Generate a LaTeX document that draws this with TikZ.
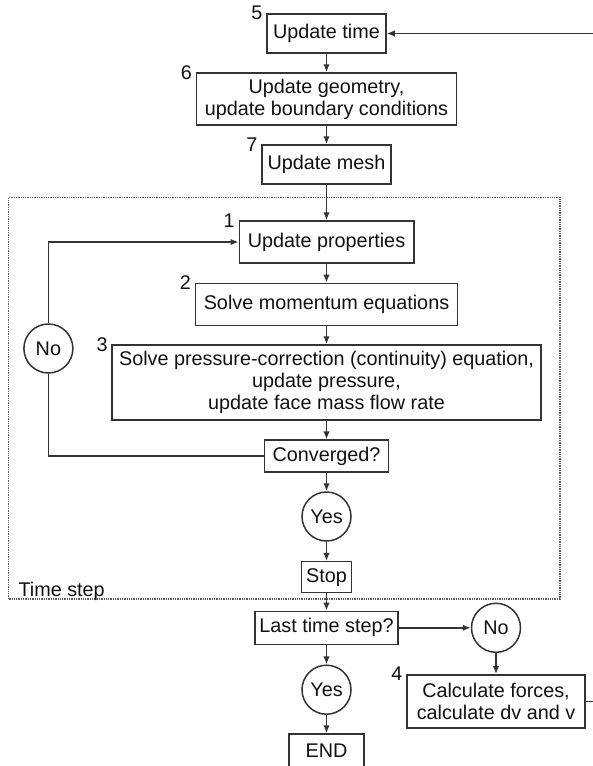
\documentclass[tikz,border=0pt]{standalone}
\usepackage{fontspec}
\setmainfont{Liberation Sans}
\usetikzlibrary{arrows.meta}
\definecolor{linegray}{HTML}{333333}
\definecolor{textgray}{HTML}{111111}
\def\colx{326.5}

\begin{document}
\begin{tikzpicture}[x=1pt,y=1pt,->,>={Latex[length=8pt,width=6.5pt]},color=linegray,line width=1.5pt,font=\fontsize{19.8}{22}\selectfont]
    \tikzstyle{stepbox}=[draw,rectangle,align=center,inner sep=0pt,text=textgray]
    \tikzstyle{answer}=[draw,circle,minimum size=49pt,inner sep=0pt,text=textgray]
    \tikzstyle{num}=[anchor=east,inner sep=3pt,text=textgray]
    \tikzstyle{frame}=[-,densely dotted,black!65,line width=1.3pt]

    \useasboundingbox (0,0) rectangle (592,-766);

    % Draw the time step frame
    \draw[frame] (8.3,-197.5) rectangle (560,-599);
    \node[anchor=base west,text=textgray] (tslabel) at (14.5,-596.5) {Time step};

    % Draw the main column
    \node[stepbox,minimum width=119pt,minimum height=39pt,label={[num]north west:5}] (time) at (\colx,-33.5) {Update time};
    \node[stepbox,minimum width=260pt,minimum height=52pt,label={[num]north west:6}] (geom) at (\colx,-99) {Update geometry,\\update boundary conditions};
    \node[stepbox,minimum width=129pt,minimum height=39pt,label={[num]north west:7}] (mesh) at (\colx,-164.5) {Update mesh};
    \node[stepbox,minimum width=174.5pt,minimum height=42pt,label={[num]north west:1}] (props) at (\colx,-242) {Update properties};
    \node[stepbox,minimum width=262.3pt,minimum height=42.4pt,label={[num]north west:2}] (momentum) at (\colx,-304.5) {Solve momentum equations};
    \node[stepbox,minimum width=428.6pt,minimum height=75pt,label={[num]north west:3}] (pressure) at (\colx,-382.5) {Solve pressure-correction (continuity) equation,\\update pressure,\\update face mass flow rate};
    \node[stepbox,minimum width=123.6pt,minimum height=31.7pt] (conv) at (\colx,-456) {Converged?};
    \node[answer] (yes1) at (\colx,-516.5) {Yes};
    \node[stepbox,minimum width=50.4pt,minimum height=31pt] (stop) at (\colx,-577.2) {Stop};
    \node[stepbox,minimum width=143pt,minimum height=33pt] (last) at (\colx,-627.8) {Last time step?};
    \node[answer] (yes2) at (\colx,-689.7) {Yes};
    \node[stepbox,minimum width=74.7pt,minimum height=33pt] (theend) at (\colx,-750.5) {END};

    % Draw the side nodes
    \node[answer] (no1) at (48.4,-348.5) {No};
    \node[answer] (no2) at (496,-627.8) {No};
    \node[stepbox,minimum width=178pt,minimum height=53pt,label={[num]north west:4}] (forces) at (496,-701.3) {Calculate forces,\\calculate dv and v};

    % Connect the main column
    \foreach \source/\dest in {time/geom,geom/mesh,mesh/props,props/momentum,momentum/pressure,pressure/conv,conv/yes1,yes1/stop,stop/last,last/yes2,yes2/theend}
        \draw (\source) -- (\dest);

    % Inner loop back to the properties
    \draw[-] (conv.west) -| (no1.south);
    \draw (no1.north) |- (props.west);

    % Outer loop back to the time update
    \draw (last.east) -- (no2.west);
    \draw (no2) -- (forces);
    \draw (forces.east) -- ++(20,0) |- (time.east);
\end{tikzpicture}
\end{document}
